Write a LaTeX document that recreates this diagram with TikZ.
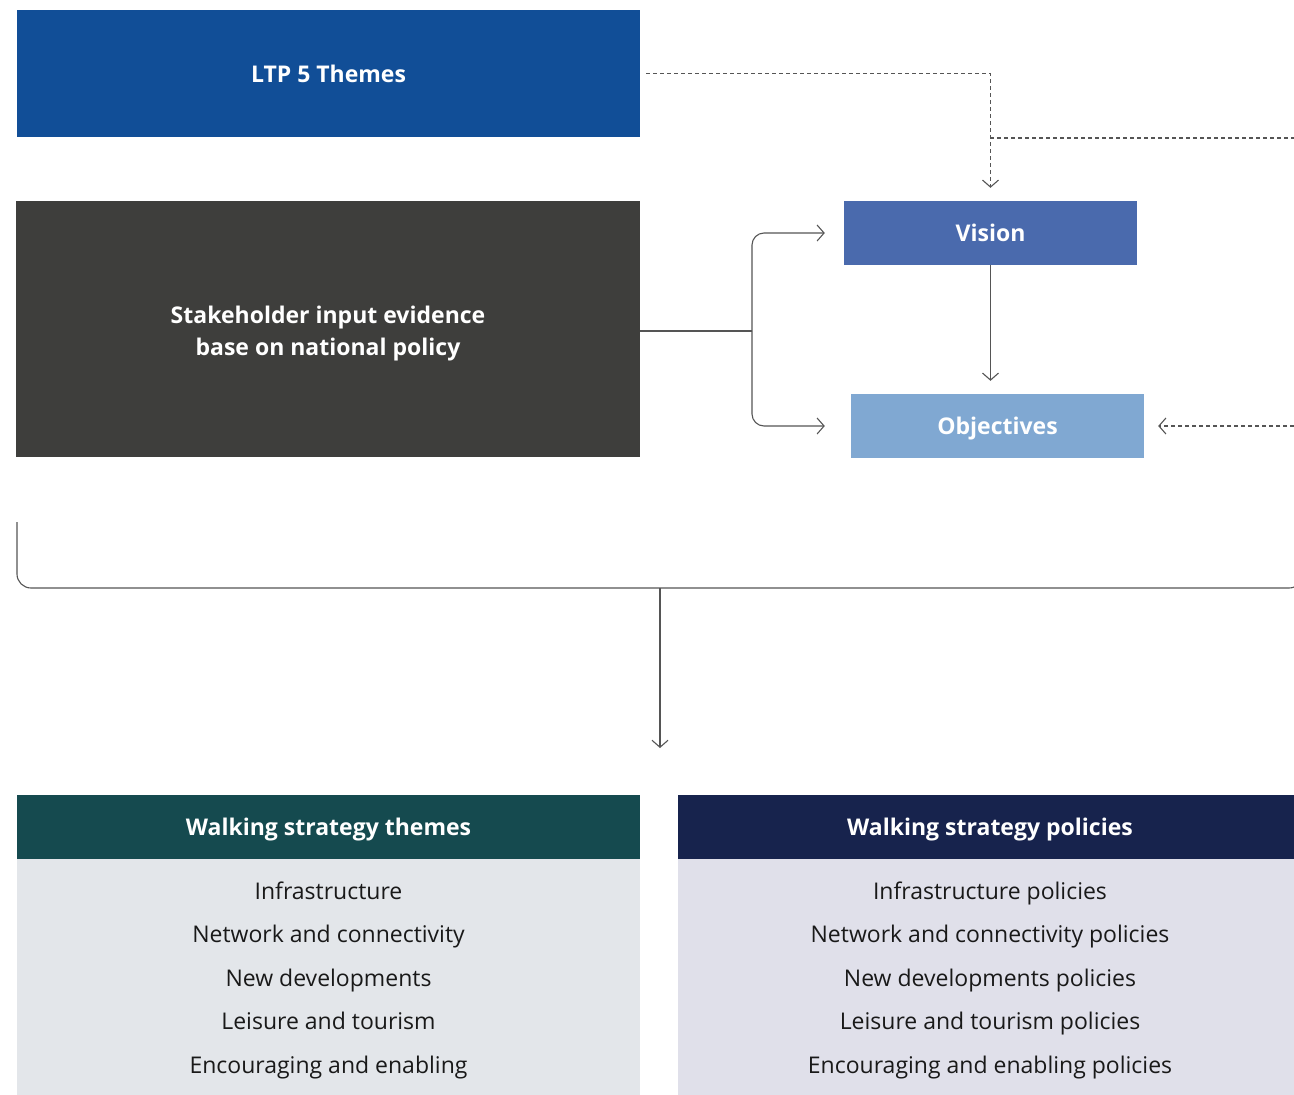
\documentclass[tikz,border=0pt]{standalone}
\usepackage{fontspec}
\setmainfont{Open Sans}
\usetikzlibrary{arrows.meta,positioning}
\definecolor{ltpblue}{HTML}{114E97}
\definecolor{stakegrey}{HTML}{3E3E3C}
\definecolor{visionblue}{HTML}{4A6AAD}
\definecolor{objblue}{HTML}{80A8D2}
\definecolor{themegreen}{HTML}{154A4F}
\definecolor{policynavy}{HTML}{17234D}
\definecolor{themebody}{HTML}{E3E6EA}
\definecolor{policybody}{HTML}{E0E0EA}
\definecolor{linegrey}{HTML}{555555}
\begin{document}
\begin{tikzpicture}[x=1pt, y=-1pt, >={Straight Barb[length=7pt,width=16pt]},
    box/.style={draw=none, inner sep=0pt, align=center, text=white,
        text height=17pt, text depth=0pt,
        font=\fontsize{23}{32}\selectfont\bfseries},
    listbox/.style={draw=none, inner sep=0pt, align=center, text=black!90,
        text height=192pt, text depth=0pt,
        font=\fontsize{23}{43.5}\selectfont},
    link/.style={draw=linegrey, line width=1.1pt},
    dashlink/.style={link, dash pattern=on 4pt off 3pt}]
    \useasboundingbox (0,0) rectangle (1294,1095);

    % Boxes
    \node[box, fill=ltpblue, minimum width=623pt, minimum height=127pt] (ltp) at (328.5,73.5) {LTP 5 Themes};
    \node[box, fill=stakegrey, minimum width=624pt, minimum height=256pt, text height=52pt] (stake) at (328,329) {Stakeholder input evidence\\base on national policy};
    \node[box, fill=visionblue, minimum width=293pt, minimum height=64pt] (vision) at (990.5,233) {Vision};
    \node[box, fill=objblue, minimum width=293pt, minimum height=64pt] (objectives) at (997.5,426) {Objectives};

    \node[box, fill=themegreen, minimum width=623pt, minimum height=64pt] (themehead) at (328.5,827) {Walking strategy themes};
    \node[listbox, fill=themebody, minimum width=623pt, minimum height=236pt] (themelist) at (328.5,977)
        {Infrastructure\\Network and connectivity\\New developments\\Leisure and tourism\\Encouraging and enabling};
    \node[box, fill=policynavy, minimum width=624pt, minimum height=64pt] (policyhead) at (990,827) {Walking strategy policies};
    \node[listbox, fill=policybody, minimum width=624pt, minimum height=236pt] (policylist) at (990,977)
        {Infrastructure policies\\Network and connectivity policies\\New developments policies\\Leisure and tourism policies\\Encouraging and enabling policies};

    % Coordinates
    \coordinate (fork) at (752,331);
    \coordinate (split) at (990,138);
    \coordinate (ltpside) at (1294,138);
    \coordinate (objside) at (1294,426);
    \coordinate (bracketleft) at (17,522);
    \coordinate (bracketright) at (1303,522);
    \coordinate (merge) at (660,588);
    \coordinate (walkin) at (660,748);

    % Connectors
    \draw[dashlink, ->, shorten <=6pt, shorten >=13pt] (ltp.east) -| (vision.north);
    \draw[dashlink] (split) -- (ltpside);
    \draw[dashlink, ->, shorten >=14pt] (objside) -- (objectives.east);
    \draw[link, ->, shorten >=13pt] (vision.south) -- (vision.south |- objectives.north);

    \draw[link] (stake.east |- fork) -- (fork);
    \draw[link, ->, rounded corners=12pt, shorten >=19pt] (fork) |- (vision.west);
    \draw[link, ->, rounded corners=12pt, shorten >=26pt] (fork) |- (objectives.west);

    \draw[link, rounded corners=14pt] (bracketleft) |- (merge) -| (bracketright);
    \draw[link, ->] (merge) -- (walkin);
\end{tikzpicture}
\end{document}
